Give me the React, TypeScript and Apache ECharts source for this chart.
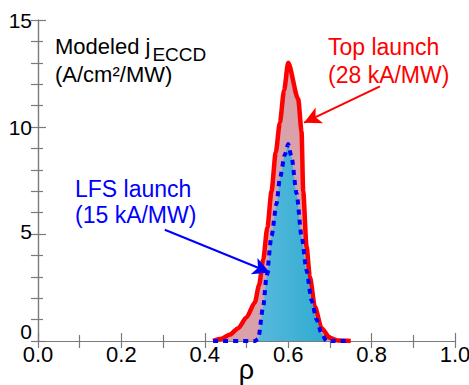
import React, { useEffect, useRef } from "react";
import * as echarts from "echarts";

// Top launch (red) profile: rho, j
const redRho = [0.42, 0.44, 0.46, 0.48, 0.5, 0.52, 0.53, 0.54, 0.55, 0.56, 0.57, 0.58, 0.59, 0.6, 0.624, 0.632, 0.636, 0.644, 0.652, 0.664, 0.68, 0.7, 0.72, 0.75];
const redJ = [0, 0.1, 0.3, 0.6, 1.1, 1.8, 2.6, 3.8, 5.3, 7.0, 8.8, 10.2, 11.7, 13.0, 11.3, 9.8, 7.0, 4.4, 3.0, 1.6, 0.6, 0.15, 0.02, 0];

// LFS launch (blue) profile
const blueRho = [0.42, 0.52, 0.528, 0.54, 0.548, 0.56, 0.572, 0.58, 0.592, 0.6, 0.608, 0.62, 0.632, 0.644, 0.656, 0.668, 0.68, 0.692, 0.75];
const blueJ = [0, 0, 0.1, 1.6, 3.0, 4.9, 6.4, 7.6, 8.7, 9.2, 8.6, 6.9, 4.9, 3.3, 1.9, 1.0, 0.35, 0, 0];

// Arrow endpoints in data coords [rho, j]
const redArrow = [[0.82, 11.9], [0.638, 10.2]];
const blueArrow = [[0.304, 5.2], [0.556, 3.2]];

const FONT = "'Liberation Sans', Arial, Helvetica, sans-serif";
const AXIS_COLOR = "#7a7a7a";

export default function App() {
  const ref = useRef<HTMLDivElement>(null);

  useEffect(() => {
    if (!ref.current) return;
    const chart = echarts.init(ref.current, undefined, { renderer: "svg" });

    const redData = redRho.map((x, i) => [x, redJ[i]]);
    const blueData = blueRho.map((x, i) => [x, blueJ[i]]);

    const axisCommon = {
      type: "value" as const,
      splitLine: { show: false },
      axisLine: { show: true, lineStyle: { color: AXIS_COLOR, width: 1.2 } },
    };

    chart.setOption({
      animation: false,
      backgroundColor: "#ffffff",
      grid: { left: 38, right: 14, top: 20, bottom: 44, containLabel: false, outerBoundsMode: "none" },
      xAxis: [
        {
          ...axisCommon,
          position: "bottom",
          min: 0,
          max: 1,
          interval: 0.2,
          axisTick: { show: true, inside: true, length: 8, lineStyle: { color: AXIS_COLOR, width: 1.2 } },
          minorTick: { show: true, splitNumber: 2, length: 6, lineStyle: { color: AXIS_COLOR, width: 1.2 } },
          axisLabel: {
            color: "#000",
            fontSize: 22,
            fontFamily: FONT,
            margin: 2,
            hideOverlap: false,
            formatter: (v: number) => v.toFixed(1),
          },
          name: "ρ",
          nameLocation: "middle",
          nameGap: 15,
          nameMoveOverlap: false,
          nameTextStyle: { color: "#000", fontSize: 27, fontFamily: FONT },
        },
        {
          ...axisCommon,
          position: "top",
          min: 0,
          max: 1,
          interval: 0.2,
          axisTick: { show: true, inside: true, length: 7, lineStyle: { color: AXIS_COLOR, width: 1.2 } },
          minorTick: { show: true, splitNumber: 2, length: 7, lineStyle: { color: AXIS_COLOR, width: 1.2 } },
          axisLabel: { show: false },
        },
      ],
      yAxis: [
        {
          ...axisCommon,
          position: "left",
          min: 0,
          max: 15,
          interval: 5,
          axisTick: { show: true, inside: true, length: 8, lineStyle: { color: AXIS_COLOR, width: 1.2 } },
          minorTick: { show: true, splitNumber: 5, length: 5, lineStyle: { color: AXIS_COLOR, width: 1.2 } },
          axisLabel: {
            color: "#000",
            fontSize: 21,
            fontFamily: FONT,
            margin: 6,
            hideOverlap: false,
            formatter: (v: number) => (v === 0 ? "{z|0}" : v === 5 ? "{f|5}" : "{n|" + v + "}"),
            rich: {
              z: { fontSize: 21, fontFamily: FONT, color: "#000", padding: [0, 0, 20, 0] },
              f: { fontSize: 21, fontFamily: FONT, color: "#000", padding: [0, 0, 5, 0] },
              n: { fontSize: 21, fontFamily: FONT, color: "#000" },
            },
          },
        },
        {
          ...axisCommon,
          position: "right",
          min: 0,
          max: 15,
          interval: 5,
          axisTick: { show: true, inside: true, length: 7, lineStyle: { color: AXIS_COLOR, width: 1.2 } },
          minorTick: { show: true, splitNumber: 5, length: 7, lineStyle: { color: AXIS_COLOR, width: 1.2 } },
          axisLabel: { show: false },
        },
      ],
      series: [
        {
          type: "line",
          name: "Top launch",
          data: redData,
          xAxisIndex: 0,
          yAxisIndex: 0,
          symbol: "none",
          smooth: 0.25,
          smoothMonotone: "x",
          lineStyle: { color: "#ff0000", width: 4.5, join: "round" },
          areaStyle: { color: "#d9a1a9", opacity: 1 },
          z: 3,
          silent: true,
          markLine: {
            silent: true,
            symbol: ["none", "arrow"],
            symbolSize: [13, 17],
            label: { show: false },
            lineStyle: { color: "#ff0000", width: 2, type: "solid" },
            data: [
              [
                { coord: redArrow[0] },
                { coord: redArrow[1] },
              ],
            ],
          },
        },
        {
          type: "line",
          name: "LFS launch",
          data: blueData,
          xAxisIndex: 0,
          yAxisIndex: 0,
          symbol: "none",
          smooth: 0.25,
          smoothMonotone: "x",
          lineStyle: { color: "#0000ff", width: 4, type: [5, 5] },
          areaStyle: {
            opacity: 1,
            color: new echarts.graphic.LinearGradient(0, 0, 1, 0, [
              { offset: 0, color: "#74c2e3" },
              { offset: 1, color: "#1fa6cd" },
            ]),
          },
          z: 4,
          silent: true,
          markLine: {
            silent: true,
            symbol: ["none", "arrow"],
            symbolSize: [13, 17],
            label: { show: false },
            lineStyle: { color: "#0000ff", width: 2, type: "solid" },
            data: [
              [
                { coord: blueArrow[0] },
                { coord: blueArrow[1] },
              ],
            ],
          },
        },
      ],
      graphic: [
        {
          type: "text",
          x: 55,
          y: 46.5,
          style: {
            text: "{a|Modeled j}{s|ECCD}",
            fill: "#000",
            fontSize: 22,
            fontFamily: FONT,
            align: "left",
            verticalAlign: "middle",
            rich: {
              a: { fontSize: 22, fontFamily: FONT, fill: "#000" },
              s: { fontSize: 19, fontFamily: FONT, fill: "#000", padding: [16, 0, 0, 2] },
            },
          },
        },
        {
          type: "text",
          x: 55,
          y: 74.5,
          style: { text: "(A/cm²/MW)", fill: "#000", fontSize: 22, fontFamily: FONT, align: "left", verticalAlign: "middle" },
        },
        {
          type: "text",
          x: 328,
          y: 46.5,
          style: { text: "Top launch", fill: "#ff0000", fontSize: 23, fontFamily: FONT, align: "left", verticalAlign: "middle" },
        },
        {
          type: "text",
          x: 328,
          y: 74.5,
          style: { text: "(28 kA/MW)", fill: "#ff0000", fontSize: 23, fontFamily: FONT, align: "left", verticalAlign: "middle" },
        },
        {
          type: "text",
          x: 75,
          y: 188.5,
          style: { text: "LFS launch", fill: "#0000ff", fontSize: 23, fontFamily: FONT, align: "left", verticalAlign: "middle" },
        },
        {
          type: "text",
          x: 75,
          y: 215,
          style: { text: "(15 kA/MW)", fill: "#0000ff", fontSize: 23, fontFamily: FONT, align: "left", verticalAlign: "middle" },
        },
      ],
    });

    return () => chart.dispose();
  }, []);

  return (
    <div
      ref={ref}
      style={{ position: "fixed", left: 0, top: 0, width: 469, height: 385, background: "#fff" }}
    />
  );
}
